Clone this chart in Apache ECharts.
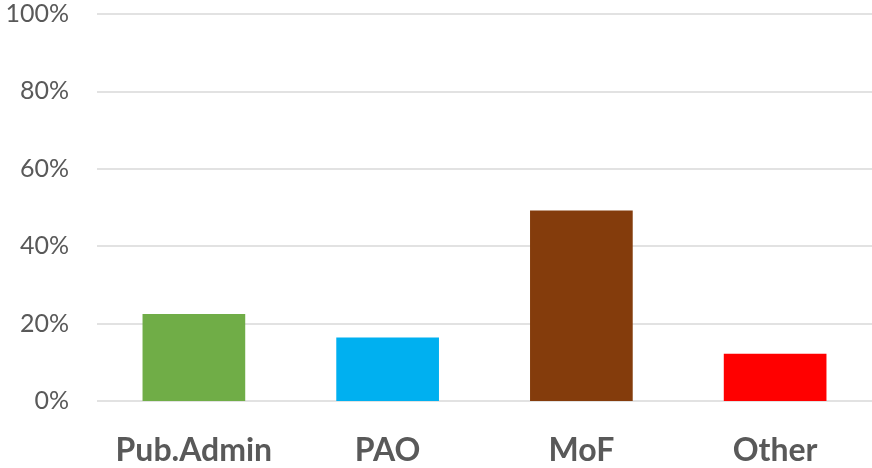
<!DOCTYPE html>
<html>
<head>
<meta charset="utf-8">
<script src="https://cdn.jsdelivr.net/npm/echarts@6/dist/echarts.min.js"></script>
<style>
  html, body { margin: 0; padding: 0; background: #ffffff; }
  #chart { width: 872px; height: 468px; }
</style>
</head>
<body>
<div id="chart"></div>
<script>
// Share of responses by institution (%)
const categories = ['Pub.Admin', 'PAO', 'MoF', 'Other'];
const shares = [22.5, 16.4, 49.2, 12.2];
const barColors = ['#70AD47', '#00B0F0', '#843C0C', '#FF0000'];
const yTicks = [0, 20, 40, 60, 80, 100];

const chart = echarts.init(document.getElementById('chart'), null, { renderer: 'canvas' });

chart.setOption({
  animation: false,
  grid: { left: 97, right: -3, top: 14, bottom: 67, containLabel: false },
  xAxis: {
    type: 'category',
    data: categories,
    axisLine: { show: false },
    axisTick: { show: false },
    axisLabel: {
      interval: 0,
      color: '#595959',
      fontFamily: 'Lato',
      fontWeight: 'bold',
      fontSize: 32,
      margin: 34
    }
  },
  yAxis: {
    type: 'value',
    min: yTicks[0],
    max: yTicks[yTicks.length - 1],
    interval: 20,
    axisLine: { show: false },
    axisTick: { show: false },
    splitLine: { lineStyle: { color: '#D9D9D9', width: 1.5 } },
    axisLabel: {
      color: '#595959',
      fontFamily: 'Lato',
      fontSize: 25,
      margin: 28,
      formatter: v => v + '%'
    }
  },
  series: [{
    type: 'bar',
    data: shares.map((v, i) => ({ value: v, itemStyle: { color: barColors[i] } })),
    barWidth: '53%'
  }]
});
</script>
</body>
</html>
